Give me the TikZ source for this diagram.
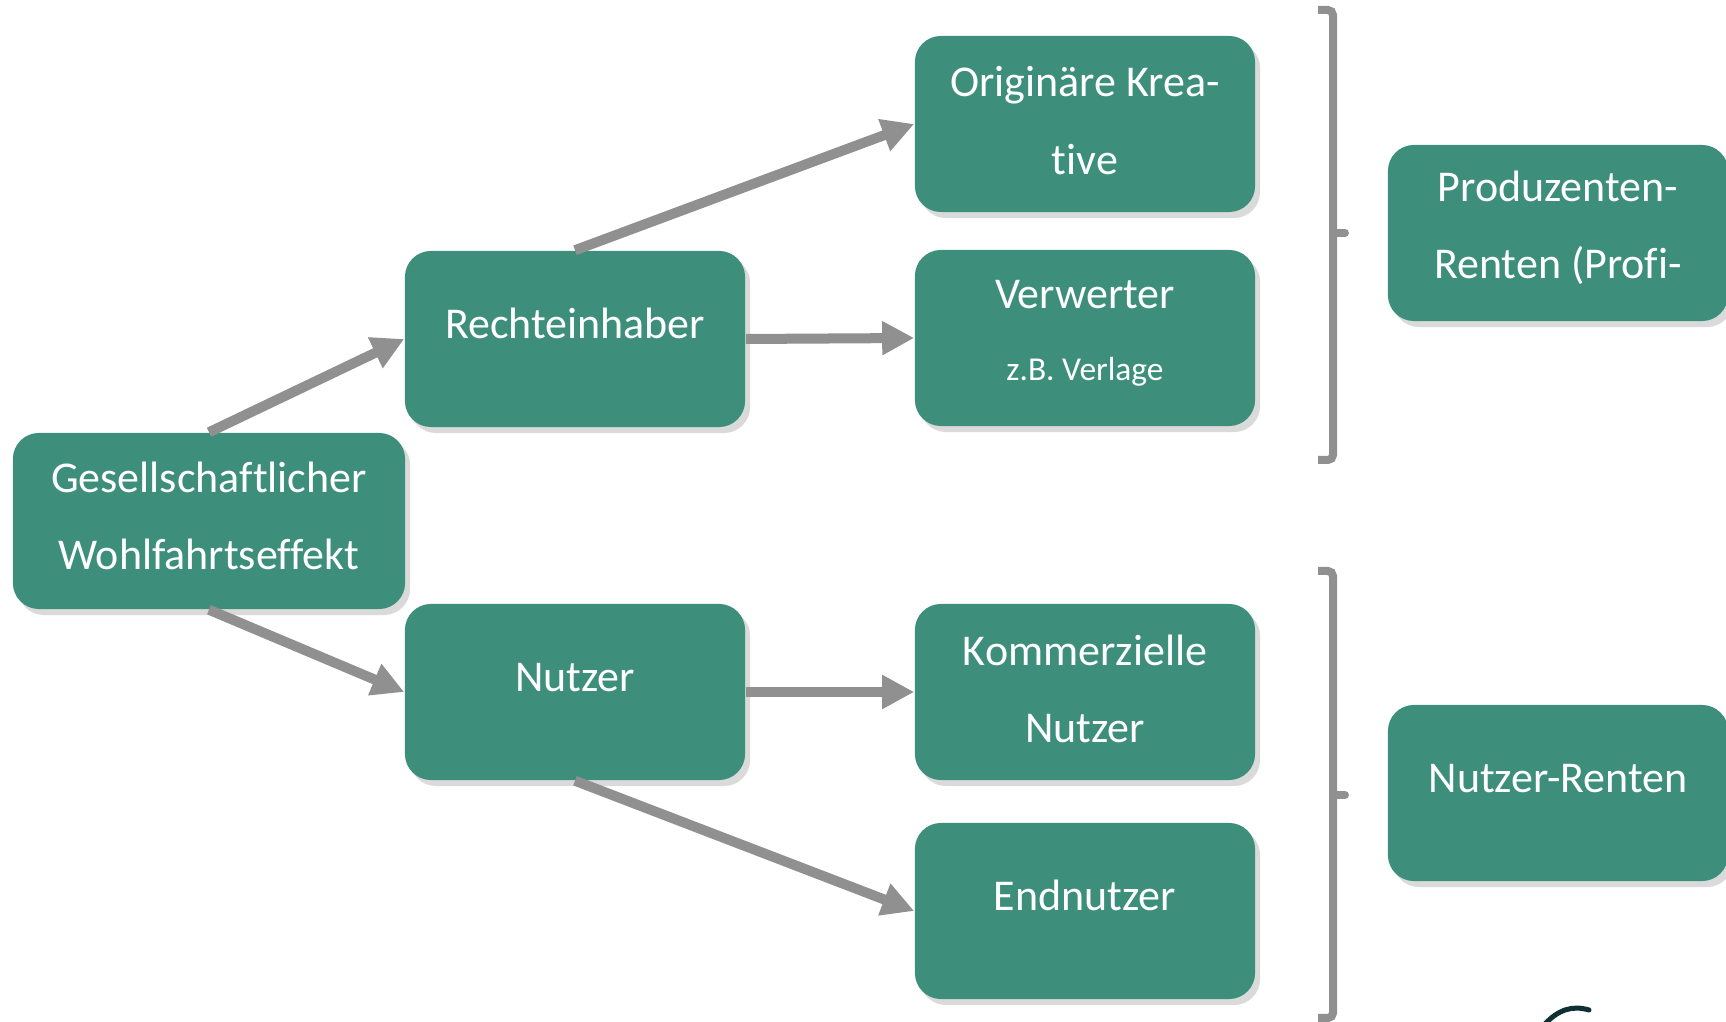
\documentclass[tikz,border=0pt]{standalone}
\usepackage{fontspec}
\setmainfont{Carlito}[Ligatures={NoCommon}]
\usetikzlibrary{arrows.meta,shadows}
\definecolor{gruen}{HTML}{3D8F7C}
\definecolor{grau}{HTML}{909090}
\definecolor{dunkel}{HTML}{0F2F33}
\newcommand{\tief}[1][0.07cm]{\rule[-#1]{0pt}{0pt}}
\begin{document}
\begin{tikzpicture}[x=0.01cm, y=-0.01cm, >={Triangle[length=0.32cm, width=0.32cm]}]
                \tikzset{
                    akteur/.style={rectangle, rounded corners=0.26cm, fill=gruen, text=white,
                        minimum width=3.4cm, minimum height=1.76cm, align=center,
                        font=\fontsize{12.5}{22}\selectfont,
                        drop shadow={shadow xshift=0.05cm, shadow yshift=-0.06cm, fill=black!18, opacity=0.8}},
                    einzeilig/.style={text height=0.3cm, text depth=0.3cm},
                    pfeil/.style={->, draw=grau, fill=grau, line width=0.1cm},
                    klammer/.style={draw=grau, line width=0.08cm, rounded corners=0.05cm}
                }
                \useasboundingbox (0,0) rectangle (1726,1022);
                \node[akteur, minimum width=3.92cm] (ges) at (209,521) {Gesellschaftlicher\\Wohlfahrtseffekt\tief[0.1cm]};
                \node[akteur, einzeilig] (recht) at (575,339) {Rechteinhaber};
                \node[akteur, einzeilig] (nutz)  at (575,692) {Nutzer};
                \node[akteur] (krea) at (1085,124) {Originäre Krea-\\tive\tief};
                \node[akteur] (verw) at (1085,338) {Verwerter\\[-0.055cm]{\fontsize{9.5}{22}\selectfont z.B. Verlage}\tief[0.15cm]};
                \node[akteur] (komm) at (1085,692) {Kommerzielle\\Nutzer\tief};
                \node[akteur, einzeilig] (endn) at (1085,911) {Endnutzer};
                \node[akteur] (prod) at (1558,233) {Produzenten-\\Renten (Profi-\tief[0.16cm]};
                \node[akteur, einzeilig] (nrent) at (1558,793) {Nutzer-Renten};
                \draw[pfeil] (ges.north) -- (recht.west);
                \draw[pfeil] (ges.south) -- (nutz.west);
                \draw[pfeil] (recht.north) -- (krea.west);
                \draw[pfeil] (recht.east) -- (verw.west);
                \draw[pfeil] (nutz.east) -- (komm.west);
                \draw[pfeil] (nutz.south) -- (endn.west);
                % Klammern
                \draw[klammer] (1318,10) -- (1333,10) -- (1333,460) -- (1318,460);
                \draw[klammer, line cap=round] (1333,233) -- (1345,233);
                \draw[klammer] (1318,571) -- (1333,571) -- (1333,1018) -- (1318,1018);
                \draw[klammer, line cap=round] (1333,795) -- (1345,795);
                \draw[dunkel, line width=0.05cm, line cap=round] (1545,1024) .. controls (1558,1010) and (1572,1005) .. (1589,1010);
            \end{tikzpicture}
\end{document}
